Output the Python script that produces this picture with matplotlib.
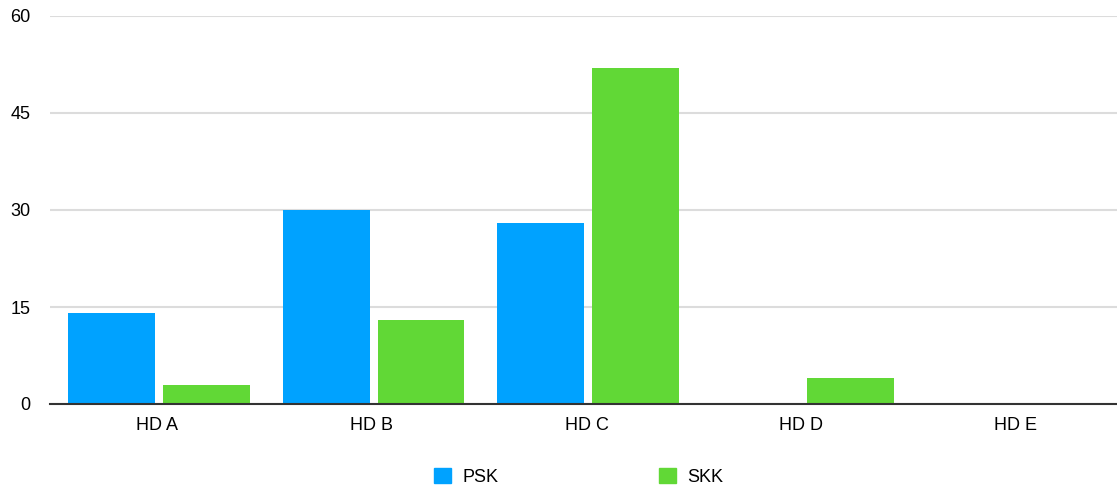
import matplotlib
matplotlib.use("Agg")
import matplotlib.pyplot as plt
from matplotlib.patches import Patch
import numpy as np

categories = ["HD A", "HD B", "HD C", "HD D", "HD E"]
psk = [14, 30, 28, 0, 0]
skk = [3, 13, 52, 4, 0]
yticks = [0, 15, 30, 45, 60]

blue = "#00A2FF"
green = "#61D836"

plt.rcParams['font.family'] = ['Liberation Sans', 'DejaVu Sans']
fig = plt.figure(figsize=(11.17, 4.87), dpi=100)
ax = fig.add_axes([50/1117, 1-404/487, 1073/1117, (404-16)/487])

x = np.arange(len(categories))
w = 0.405
ax.bar(x - 0.213, psk, width=w, color=blue, label="PSK", zorder=3)
ax.bar(x + 0.229, skk, width=w, color=green, label="SKK", zorder=3)

ax.set_xlim(-0.5, len(categories) - 0.5)
ax.set_ylim(0, 60)
ax.set_yticks(yticks)
ax.set_yticklabels([str(v) for v in yticks])
ax.set_xticks(x)
ax.set_xticklabels(categories)
ax.tick_params(axis='both', length=0, labelsize=13, colors='#000000')
ax.tick_params(axis='y', pad=14)
ax.tick_params(axis='x', pad=9)
ax.grid(axis='y', color='#dcdcdc', linewidth=1.5, zorder=0)
for s in ['top', 'right', 'left']:
    ax.spines[s].set_visible(False)
ax.spines['bottom'].set_color('#333333')
ax.spines['bottom'].set_linewidth(1.5)
ax.spines['bottom'].set_zorder(4)

handles = [Patch(color=blue, label="PSK"), Patch(color=green, label="SKK")]
fig.legend(handles=handles, loc='center', bbox_to_anchor=(578.5/1117, 1-477/487),
           ncol=2, frameon=False, fontsize=13, handlelength=0.94, handleheight=0.94,
           handletextpad=0.62, columnspacing=8.9)

fig.savefig("out.png", dpi=100)
